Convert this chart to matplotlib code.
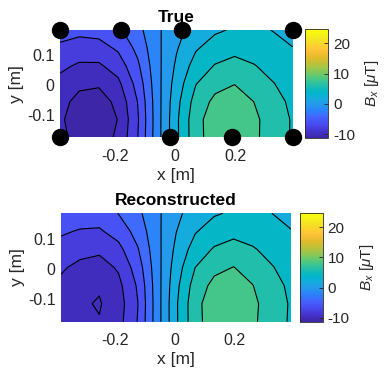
import numpy as np
import matplotlib
matplotlib.use("Agg")
import matplotlib.pyplot as plt
from matplotlib.colors import LinearSegmentedColormap, Normalize
from matplotlib.cm import ScalarMappable

plt.rcParams['font.family'] = ['Liberation Sans', 'DejaVu Sans']
plt.rcParams['mathtext.fontset'] = 'custom'
plt.rcParams['mathtext.rm'] = 'Liberation Sans'
plt.rcParams['mathtext.it'] = 'Liberation Sans:italic'
plt.rcParams['axes.unicode_minus'] = False

# grid of the field maps (m)
x_grid = [-0.383, -0.319, -0.254, -0.190, -0.125, -0.061, 0.004, 0.068, 0.132, 0.197, 0.261, 0.326, 0.390]
y_grid = [-0.175, -0.115, -0.055, 0.005, 0.065, 0.125, 0.185]

# Bx in uT, rows from bottom (y=-0.175) to top (y=0.185)
bx_true = [
    [-9.50, -10.70, -11.00, -9.65, -6.05, -0.90, 3.60, 7.30, 9.00, 9.50, 8.40, 7.00, 5.80],
    [-9.71, -10.96, -11.30, -9.94, -6.24, -0.93, 3.62, 7.34, 9.04, 9.54, 8.43, 7.02, 5.82],
    [-9.40, -10.57, -10.85, -9.51, -5.96, -0.89, 3.36, 6.83, 8.46, 8.98, 7.99, 6.70, 5.58],
    [-8.63, -9.61, -9.76, -8.48, -5.27, -0.78, 2.89, 5.92, 7.40, 7.95, 7.16, 6.07, 5.12],
    [-7.56, -8.28, -8.29, -7.10, -4.38, -0.65, 2.34, 4.83, 6.12, 6.67, 6.11, 5.28, 4.52],
    [-6.37, -6.86, -6.74, -5.68, -3.46, -0.51, 1.82, 3.78, 4.85, 5.39, 5.03, 4.43, 4.05],
    [-5.19, -5.47, -5.27, -4.37, -2.63, -0.38, 1.36, 2.85, 3.72, 4.20, 4.30, 3.95, 3.21],
]
bx_rec = [
    [-8.90, -9.60, -9.90, -8.70, -5.90, -1.00, 3.70, 7.35, 9.05, 9.45, 8.35, 6.95, 5.75],
    [-9.00, -9.75, -10.15, -8.90, -6.05, -1.00, 3.72, 7.40, 9.10, 9.55, 8.45, 7.00, 5.80],
    [-8.40, -9.35, -9.80, -8.55, -5.75, -0.95, 3.45, 6.90, 8.55, 9.05, 8.05, 6.72, 5.60],
    [-7.75, -8.50, -8.85, -7.75, -5.05, -0.85, 3.00, 6.00, 7.50, 8.05, 7.25, 6.12, 5.15],
    [-6.70, -7.35, -7.60, -6.60, -4.15, -0.70, 2.45, 4.90, 6.20, 6.75, 6.20, 5.35, 4.58],
    [-5.75, -6.15, -6.25, -5.20, -3.25, -0.55, 1.95, 3.85, 4.95, 5.45, 5.10, 4.50, 4.10],
    [-4.80, -5.00, -5.00, -3.95, -2.45, -0.45, 1.55, 2.90, 3.80, 4.25, 4.35, 4.00, 3.30],
]

# sensor positions
sensor_x = [-0.383, -0.180, 0.023, 0.390, -0.383, -0.017, 0.187, 0.390]
sensor_y = [0.185, 0.185, 0.185, 0.185, -0.175, -0.175, -0.175, -0.175]

levels = [-10, -8, -6, -4, -2, 0, 2, 4, 6, 8]
clim = (-11.3, 24.6)
cbar_ticks = [-10, 0, 10, 20]

# parula (approx.)
parula_pts = [
    (0.2422, 0.1504, 0.6603), (0.2667, 0.2003, 0.8033), (0.2810, 0.2940, 0.9430),
    (0.2790, 0.3566, 0.9780), (0.2448, 0.4201, 0.9950), (0.1812, 0.4859, 0.9862),
    (0.1591, 0.5376, 0.9683), (0.1493, 0.5857, 0.9280), (0.1218, 0.6293, 0.9004),
    (0.0850, 0.6690, 0.8730), (0.0327, 0.6968, 0.8304), (0.0165, 0.7126, 0.7755),
    (0.0746, 0.7316, 0.7197), (0.1540, 0.7523, 0.6524), (0.2291, 0.7690, 0.5794),
    (0.3187, 0.7842, 0.4942), (0.4259, 0.7886, 0.4109), (0.5400, 0.7834, 0.3351),
    (0.6411, 0.7726, 0.2744), (0.7305, 0.7594, 0.2270), (0.8140, 0.7460, 0.1922),
    (0.8904, 0.7378, 0.1691), (0.9532, 0.7401, 0.1988), (0.9953, 0.7621, 0.2210),
    (0.9902, 0.8032, 0.1960), (0.9722, 0.8470, 0.1638), (0.9574, 0.8901, 0.1379),
    (0.9560, 0.9321, 0.1081), (0.9659, 0.9681, 0.0765), (0.9763, 0.9831, 0.0538),
]
rows = [1, 5, 9, 12, 14, 16, 18, 20, 22, 24, 26, 28, 30, 32, 34, 36, 38, 40,
        42, 44, 46, 48, 50, 52, 54, 56, 58, 60, 62, 64]
parula = LinearSegmentedColormap.from_list(
    'parula', [((r - 1) / 63, c) for r, c in zip(rows, parula_pts)])
norm = Normalize(*clim)

fig = plt.figure(figsize=(3.85, 3.7), dpi=100)


def draw(ax_rect, cax_rect, z, title, show_sensors):
    z = np.array(z)
    ax = fig.add_axes(ax_rect)
    zmin = z.min()
    bounds = [zmin - 1] + levels + [z.max() + 1]
    fills = [parula(norm(v)) for v in [zmin] + levels]
    ax.contourf(x_grid, y_grid, z, levels=bounds, colors=fills)
    ax.contour(x_grid, y_grid, z, levels=levels, colors='k', linewidths=0.8,
               linestyles='solid')
    if show_sensors:
        ax.plot(sensor_x, sensor_y, 'o', color='k', markersize=11.5,
                clip_on=False, zorder=5)
    ax.set_xlim(x_grid[0], x_grid[-1])
    ax.set_ylim(y_grid[0], y_grid[-1])
    ax.set_xticks([-0.2, 0, 0.2])
    ax.set_xticklabels(['-0.2', '0', '0.2'])
    ax.set_yticks([-0.1, 0, 0.1])
    ax.set_yticklabels(['-0.1', '0', '0.1'])
    ax.tick_params(length=0, labelsize=11.5, pad=8, colors='#262626')
    ax.tick_params(axis='y', pad=4)
    for s in ax.spines.values():
        s.set_visible(False)
    ax.set_xlabel('x [m]', fontsize=12.5, color='#262626', labelpad=3)
    ax.set_ylabel('y [m]', fontsize=12.5, color='#262626', labelpad=2)
    ax.set_title(title, fontsize=12.5, fontweight='bold', pad=6)

    cax = fig.add_axes(cax_rect)
    cb = fig.colorbar(ScalarMappable(norm=norm, cmap=parula), cax=cax,
                      ticks=cbar_ticks)
    cb.outline.set_linewidth(0.6)
    cb.outline.set_edgecolor('#262626')
    cax.tick_params(direction='in', length=3, width=0.6, labelsize=11,
                    colors='#262626')
    cb.set_label(r'$B_x$ [$\mu$T]', fontsize=11, color='#262626', labelpad=6)


draw([0.1558, 0.6284, 0.6044, 0.2905], [0.7922, 0.6262, 0.0605, 0.2946],
     bx_true, 'True', True)
draw([0.1584, 0.1305, 0.5974, 0.2930], [0.7792, 0.1305, 0.0590, 0.2930],
     bx_rec, 'Reconstructed', False)

fig.savefig('out.png', dpi=100)
